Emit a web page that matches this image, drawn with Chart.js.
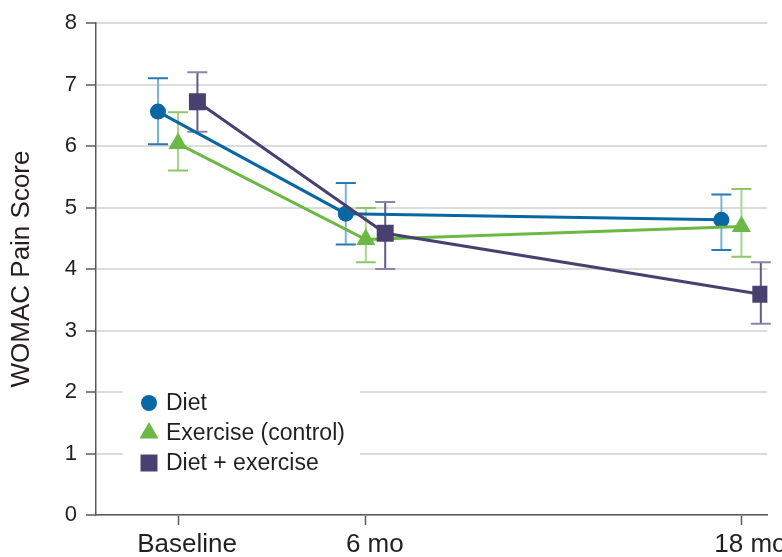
<!DOCTYPE html>
<html>
<head>
<meta charset="utf-8">
<script src="https://cdn.jsdelivr.net/npm/chart.js@4.4.0/dist/chart.umd.min.js"></script>
<style>
  html, body { margin: 0; padding: 0; background: #fff; overflow: hidden; }
  #wrap { width: 782px; height: 557px; }
</style>
</head>
<body>
<div id="wrap"><canvas id="chart"></canvas></div>
<script>
// time points (months) and their axis labels
const months = [0, 6, 18];
const monthLabels = ['Baseline', '6 mo', '18 mo'];

const seriesNames = ['Diet', 'Exercise (control)', 'Diet + exercise'];

// mean WOMAC pain score, with lower / upper error bar ends
const dietScore = [6.56, 4.90, 4.80];
const dietLow = [6.03, 4.40, 4.31];
const dietHigh = [7.10, 5.40, 5.21];

const exerciseScore = [6.04, 4.48, 4.69];
const exerciseLow = [5.60, 4.11, 4.20];
const exerciseHigh = [6.55, 4.99, 5.30];

const comboScore = [6.72, 4.58, 3.59];
const comboLow = [6.23, 4.00, 3.11];
const comboHigh = [7.20, 5.09, 4.11];

// small sideways shift (in months) so the groups don't sit on top of each other
const dodge = [-0.64, 0, 0.62];

const colors = ['#0a67a3', '#6bb845', '#48416f'];
const stemColors = ['#78b4da', '#a9d68c', '#625b88'];
const capColors = ['#2a78ae', '#8cc868', '#8a85a6'];
const pointStyles = ['circle', 'triangle', 'rect'];
const pointSizes = [8, 11, 12];

const textColor = '#231f20';
const axisColor = '#5a5a5a';
const fontFamily = '"Liberation Sans", Arial, sans-serif';

const toPoints = (score, low, high, shift) =>
  months.map((m, i) => ({ x: m + shift, y: score[i], lo: low[i], hi: high[i] }));

const seriesData = [
  toPoints(dietScore, dietLow, dietHigh, dodge[0]),
  toPoints(exerciseScore, exerciseLow, exerciseHigh, dodge[1]),
  toPoints(comboScore, comboLow, comboHigh, dodge[2]),
];

const datasets = seriesNames.map((name, i) => ({
  label: name,
  data: seriesData[i],
  borderColor: colors[i],
  backgroundColor: colors[i],
  borderWidth: 3,
  pointStyle: pointStyles[i],
  pointRadius: pointSizes[i],
  pointHoverRadius: pointSizes[i],
  pointBorderWidth: 0,
  pointBackgroundColor: colors[i],
  errStem: stemColors[i],
  errCap: capColors[i],
  order: 2 - i,   // diet + exercise ends up drawn on top
}));

// error bars: drawn under the lines and markers
const errorBars = {
  id: 'errorBars',
  beforeDatasetsDraw(chart) {
    const { ctx, scales: { x, y } } = chart;
    chart.data.datasets.forEach(ds => {
      ds.data.forEach(pt => {
        const px = x.getPixelForValue(pt.x);
        const top = y.getPixelForValue(pt.hi);
        const bot = y.getPixelForValue(pt.lo);
        ctx.save();
        ctx.lineWidth = 2;
        ctx.strokeStyle = ds.errStem;
        ctx.beginPath();
        ctx.moveTo(px, top);
        ctx.lineTo(px, bot);
        ctx.stroke();
        ctx.strokeStyle = ds.errCap;
        ctx.beginPath();
        ctx.moveTo(px - 10, top);
        ctx.lineTo(px + 10, top);
        ctx.moveTo(px - 10, bot);
        ctx.lineTo(px + 10, bot);
        ctx.stroke();
        ctx.restore();
      });
    });
  }
};

// legend box sitting inside the plot, bottom left
const boxLegend = {
  id: 'boxLegend',
  afterDraw(chart) {
    const { ctx, chartArea } = chart;
    const left = chartArea.left + 27;
    const top = chartArea.bottom - 134;
    ctx.save();
    ctx.fillStyle = '#fff';
    ctx.fillRect(left, top, 237, 105);
    chart.data.datasets.forEach((ds, i) => {
      const cy = top + 22 + i * 30;
      ctx.fillStyle = ds.backgroundColor;
      Chart.helpers.drawPoint(ctx, {
        pointStyle: ds.pointStyle, radius: ds.pointRadius, rotation: 0, borderWidth: 0
      }, left + 26, cy);
      ctx.fillStyle = textColor;
      ctx.font = '23px ' + fontFamily;
      ctx.textBaseline = 'middle';
      ctx.textAlign = 'left';
      ctx.fillText(ds.label, left + 43, cy + 1);
    });
    ctx.restore();
  }
};

new Chart(document.getElementById('chart'), {
  type: 'line',
  data: { datasets },
  options: {
    responsive: true,
    maintainAspectRatio: false,
    animation: false,
    layout: { padding: { top: 23, right: 0, left: 0, bottom: 0 } },
    plugins: {
      legend: { display: false },
      tooltip: { enabled: false },
    },
    scales: {
      x: {
        type: 'linear',
        min: -2.62,
        max: 18.83,
        afterBuildTicks: scale => { scale.ticks = months.map(v => ({ value: v })); },
        afterFit: scale => { scale.height = 42; },
        ticks: {
          callback: v => monthLabels[months.indexOf(v)],
          font: { family: fontFamily, size: 26 },
          color: textColor,
          padding: 4,
          labelOffset: 9,
          maxRotation: 0,
          autoSkip: false,
        },
        grid: {
          drawOnChartArea: false,
          drawTicks: true,
          tickLength: 10,
          tickColor: axisColor,
          tickWidth: 1.5,
        },
        border: { color: axisColor, width: 1.5 },
      },
      y: {
        min: 0,
        max: 8,
        afterFit: scale => { scale.width = 96; },
        ticks: {
          stepSize: 1,
          font: { family: fontFamily, size: 22 },
          color: textColor,
          padding: 9,
        },
        grid: {
          color: '#dcdcdc',
          lineWidth: 2,
          tickLength: 10,
          tickColor: axisColor,
          tickWidth: 1.5,
        },
        border: { color: axisColor, width: 1.5 },
        title: {
          display: true,
          text: 'WOMAC Pain Score',
          font: { family: fontFamily, size: 26 },
          color: textColor,
          padding: { top: 6, bottom: 0 },
        },
      },
    },
  },
  plugins: [errorBars, boxLegend],
});
</script>
</body>
</html>
